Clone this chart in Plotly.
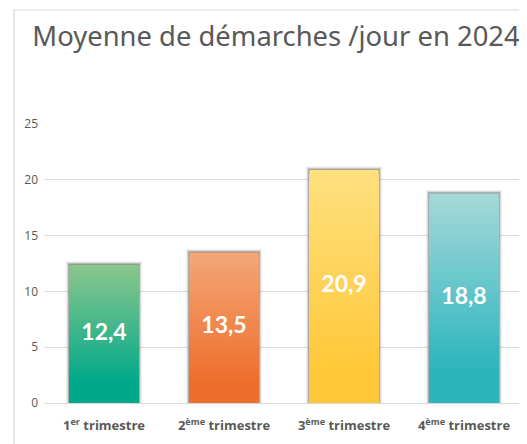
import plotly.graph_objects as go

categories = ["<b>1<sup>er</sup> trimestre</b>", "<b>2<sup>ème</sup> trimestre</b>",
              "<b>3<sup>ème</sup> trimestre</b>", "<b>4<sup>ème</sup> trimestre</b>"]
values = [12.4, 13.5, 20.9, 18.8]
bottom_colors = ["#00A98A", "#EE6F2D", "#FFC83A", "#2BB5BD"]
top_colors = ["#8CC78C", "#F3A777", "#FFE07F", "#A6D9DA"]
y_ticks = [0, 5, 10, 15, 20, 25]

title_text = "Moyenne de démarches /jour en 2024"
# page body adds an 8px offset, so the figure is sized/positioned accordingly
W, H = 519, 436
ML, MR, MT, MB = 36, 3, 116, 41
BW = 0.58
N = 48


def hex2rgb(h):
    h = h.lstrip("#")
    return tuple(int(h[i:i + 2], 16) for i in (0, 2, 4))


def mix(c1, c2, t):
    a, b = hex2rgb(c1), hex2rgb(c2)
    return "rgb(%d,%d,%d)" % tuple(round(a[k] + (b[k] - a[k]) * t) for k in range(3))


fig = go.Figure()

# soft shadow behind bars
for lw, alpha in [(7, 0.05), (4.5, 0.10), (2.5, 0.20)]:
    fig.add_trace(go.Bar(
        x=categories, y=values, width=BW,
        marker=dict(color="rgba(0,0,0,0.2)", line=dict(width=lw, color=f"rgba(0,0,0,{alpha})")),
        hoverinfo="skip", showlegend=False))

# gradient: overlapping bars from tallest (top colour) to shortest (bottom colour)
for i in range(N):
    k = N - i
    frac = (k - 0.5) / N
    t = max(0.0, (frac - 0.15) / 0.85)
    cols = [mix(b, tp, t) for b, tp in zip(bottom_colors, top_colors)]
    fig.add_trace(go.Bar(
        x=categories, y=[v * k / N for v in values],
        width=BW, marker=dict(color=cols, line=dict(width=0)),
        hoverinfo="skip", showlegend=False))

# data labels
fig.add_trace(go.Scatter(
    x=categories, y=[v / 2 for v in values], mode="text",
    text=[f"{v:.1f}".replace(".", ",") for v in values],
    textfont=dict(family="Lato", size=23, color="white", weight="bold"),
    hoverinfo="skip", showlegend=False))

# chart border
pw = W - ML - MR
ph = H - MT - MB
fig.add_shape(type="rect", xref="paper", yref="paper",
              x0=(6 - ML) / pw, x1=1.5, y0=-0.6, y1=(H - MB - 2) / ph,
              line=dict(color="#D9D9D9", width=1.2), fillcolor="rgba(0,0,0,0)", layer="below")

fig.update_layout(
    width=W, height=H,
    margin=dict(l=ML, r=MR, t=MT, b=MB),
    paper_bgcolor="white", plot_bgcolor="white",
    barmode="overlay",
    title=dict(text=title_text, x=268 / W, xanchor="center", y=1 - 28 / H, yanchor="middle",
               xref="container", yref="container",
               font=dict(family="Noto Sans", size=27.4, color="#595959")),
    xaxis=dict(range=[-0.5, 3.5], showgrid=False, showline=False, zeroline=False,
               tickfont=dict(family="Open Sans", size=13, color="#595959"),
               ticklabelstandoff=13),
    yaxis=dict(range=[0, 25], tickvals=y_ticks, showgrid=True, gridcolor="#D9D9D9", gridwidth=1,
               zeroline=True, zerolinecolor="#D9D9D9", zerolinewidth=1, showline=False,
               tickfont=dict(family="Open Sans", size=12, color="#595959"),
               ticklabelstandoff=5),
)

fig.write_html("out.html")
